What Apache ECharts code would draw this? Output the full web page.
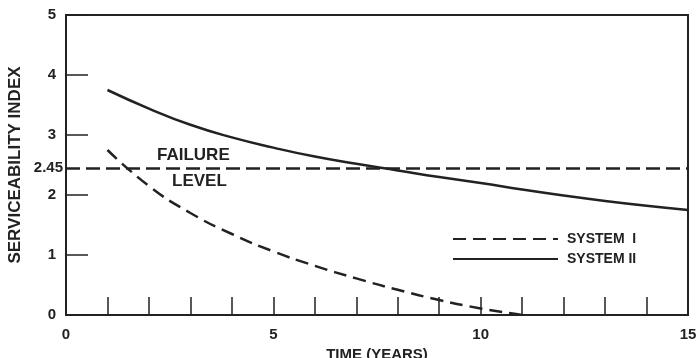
<!DOCTYPE html>
<html><head><meta charset="utf-8">
<script src="https://cdn.jsdelivr.net/npm/echarts@6/dist/echarts.min.js"></script>
<style>html,body{margin:0;padding:0;background:#fff}#c{width:697px;height:358px}</style>
</head><body><div id="c"></div>
<script>
var systemI = [[1,2.75],[2,2.15],[3,1.70],[4,1.35],[5,1.06],[6,0.82],[7,0.61],[8,0.42],[9,0.25],[10,0.11],[11,0.0]];
var systemII = [[1,3.75],[2,3.44],[3,3.17],[4,2.96],[5,2.79],[6,2.64],[7,2.52],[8,2.41],[9,2.30],[10,2.20],[11,2.09],[12,1.99],[13,1.90],[14,1.82],[15,1.75]];
var failureLevel = 2.45;
var xLabels = [0,5,10,15];
var ink = '#222';
var font = 'Liberation Sans, Arial, sans-serif';
var chart = echarts.init(document.getElementById('c'));
chart.setOption({
  animation:false,
  grid:{left:66,right:9,top:15,height:300,containLabel:false,outerBoundsMode:'none',
    show:true,borderColor:ink,borderWidth:2,backgroundColor:'transparent'},
  xAxis:[{type:'value',min:0,max:15,interval:1,
    name:'TIME (YEARS)',nameLocation:'middle',nameGap:29,
    nameTextStyle:{color:ink,fontSize:15,fontWeight:'bold',fontFamily:font},
    axisLine:{lineStyle:{color:ink,width:2}},
    axisTick:{inside:true,length:18,lineStyle:{color:ink,width:1.5}},
    axisLabel:{color:ink,fontSize:15,fontWeight:'bold',fontFamily:font,margin:12,
      formatter:function(v){return xLabels.indexOf(v)>=0?String(v):'';}},
    splitLine:{show:false}},
    {type:'value',position:'top',min:0,max:15,axisLine:{show:true,lineStyle:{color:ink,width:2}},
      axisTick:{show:false},axisLabel:{show:false},splitLine:{show:false}}],
  yAxis:[{type:'value',min:0,max:5,interval:1,
    name:'SERVICEABILITY INDEX',nameLocation:'middle',nameGap:42,
    nameTextStyle:{color:ink,fontSize:17,fontWeight:'bold',fontFamily:font},
    axisLine:{lineStyle:{color:ink,width:2}},
    axisTick:{inside:true,length:22,lineStyle:{color:ink,width:1.5}},
    axisLabel:{color:ink,fontSize:15,fontWeight:'bold',fontFamily:font,margin:10},
    splitLine:{show:false}},
    {type:'value',position:'right',min:0,max:5,axisLine:{show:true,lineStyle:{color:ink,width:2}},
      axisTick:{show:false},axisLabel:{show:false},splitLine:{show:false}}],
  legend:{orient:'vertical',left:447,top:227,itemWidth:105,itemHeight:10,itemGap:6,
    itemStyle:{opacity:0},
    textStyle:{color:ink,fontSize:14,fontWeight:'bold',fontFamily:font,padding:[0,0,0,4]},
    data:['SYSTEM  I','SYSTEM II']},
  graphic:[
    {type:'text',left:157,top:147,style:{text:'FAILURE',fill:ink,font:'bold 17px '+font}},
    {type:'text',left:172,top:173,style:{text:'LEVEL',fill:ink,font:'bold 17px '+font}}
  ],
  series:[
    {name:'SYSTEM  I',type:'line',smooth:true,symbol:'none',data:systemI,
      itemStyle:{color:ink},
      lineStyle:{color:ink,width:2.5,type:[13,7]},
      markLine:{silent:true,symbol:'none',
        lineStyle:{color:ink,width:2.5,type:[14,6]},
        label:{show:true,position:'start',formatter:'2.45',color:ink,fontSize:15,fontWeight:'bold',fontFamily:font,distance:3},
        data:[{yAxis:failureLevel}]}},
    {name:'SYSTEM II',type:'line',smooth:true,symbol:'none',data:systemII,
      itemStyle:{color:ink},
      lineStyle:{color:ink,width:2.5,type:'solid'}}
  ]
});
</script></body></html>
